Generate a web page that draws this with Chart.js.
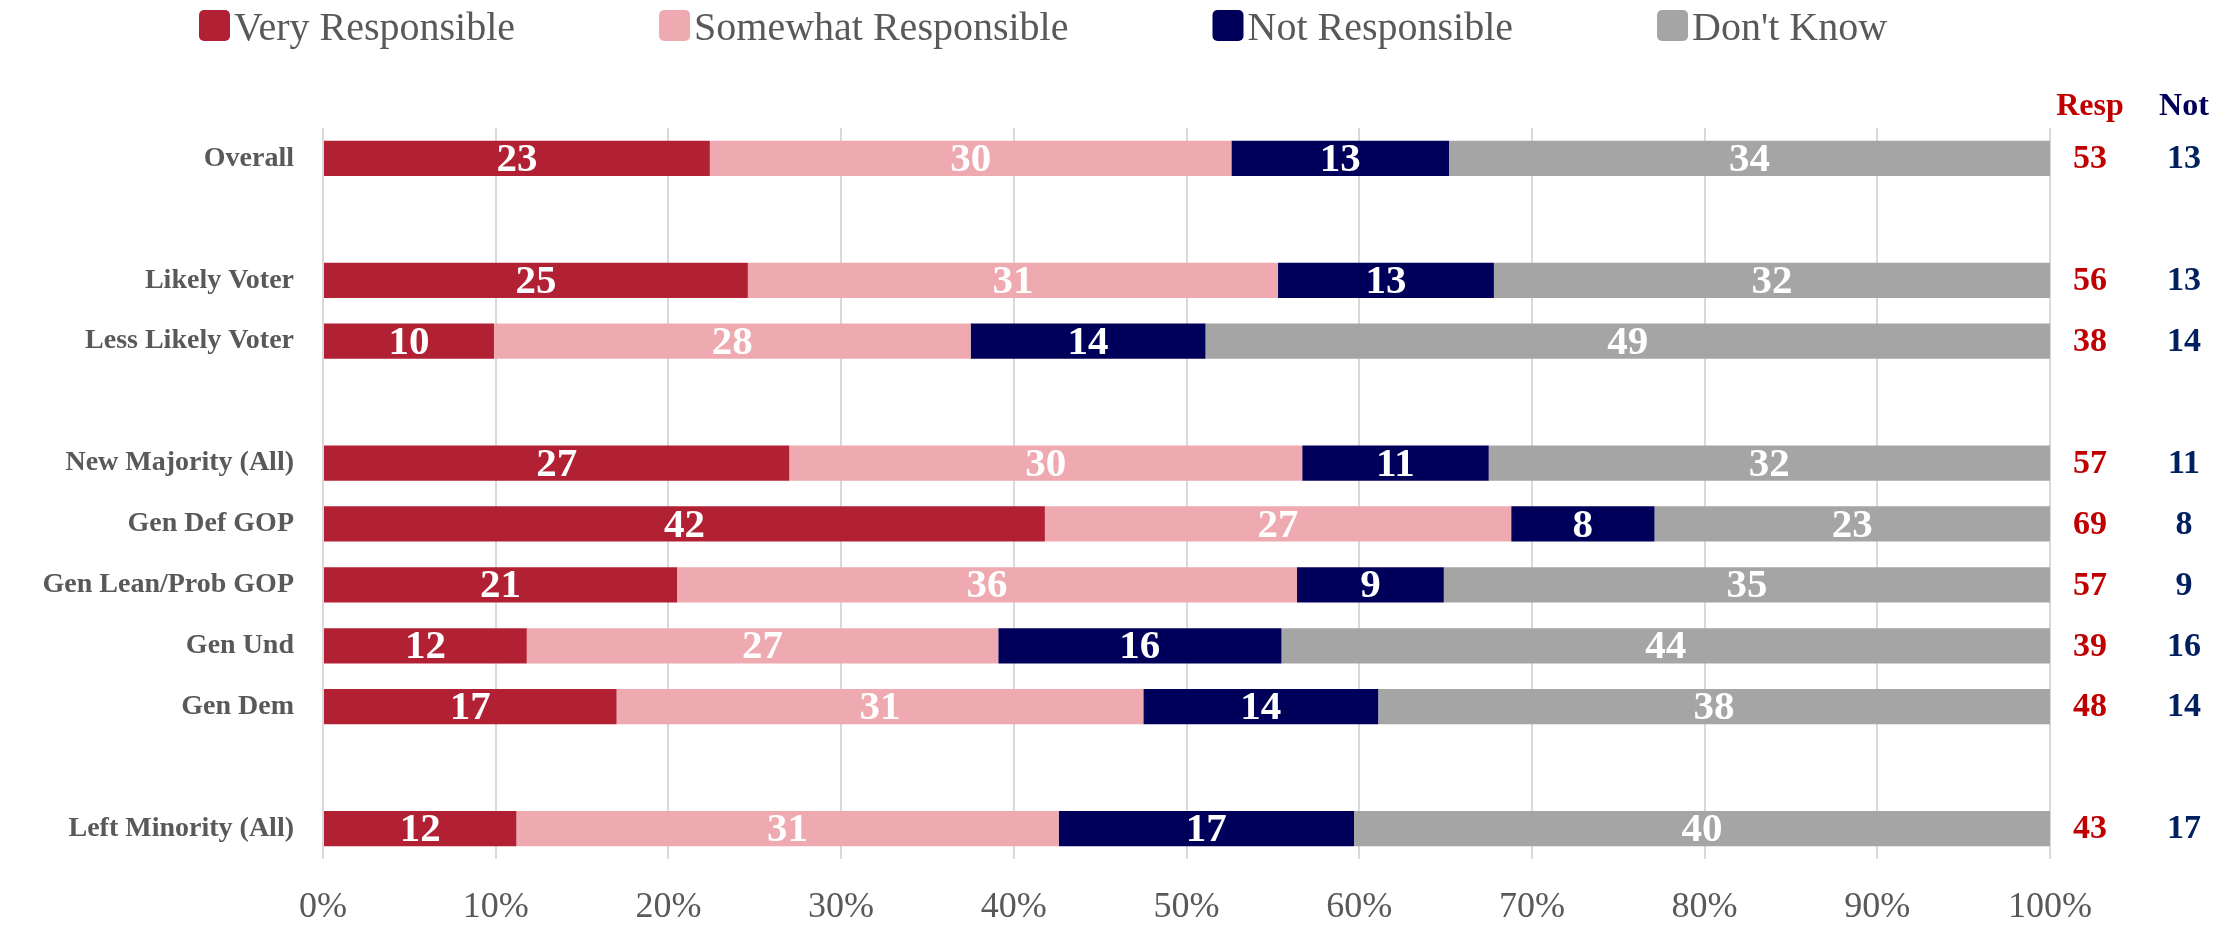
<!DOCTYPE html>
<html><head><meta charset="utf-8">
<script src="https://cdn.jsdelivr.net/npm/chart.js@4.4.1/dist/chart.umd.min.js"></script>
<style>html,body{margin:0;padding:0;background:#fff;}</style>
</head><body>
<canvas id="c" width="2225" height="929"></canvas>
<script>
const categories = ['Overall', '', 'Likely Voter', 'Less Likely Voter', '', 'New Majority (All)', 'Gen Def GOP', 'Gen Lean/Prob GOP', 'Gen Und', 'Gen Dem', '', 'Left Minority (All)'];
const seriesNames = ['Very Responsible', 'Somewhat Responsible', 'Not Responsible', "Don't Know"];
const seriesColors = ['#B22034', '#EEAAB0', '#00005A', '#A5A5A5'];

// bar lengths (percent of row)
const veryValues     = [22.4, null, 24.6,  9.9, null, 27.0, 41.8, 20.5, 11.8, 17.0, null, 11.2];
const somewhatValues = [30.2, null, 30.7, 27.6, null, 29.7, 27.0, 35.9, 27.3, 30.5, null, 31.4];
const notValues      = [12.6, null, 12.5, 13.6, null, 10.8,  8.3,  8.5, 16.4, 13.6, null, 17.1];
const dkValues       = [34.8, null, 32.2, 48.9, null, 32.5, 22.9, 35.1, 44.5, 38.9, null, 40.3];

// printed labels
const veryLabels     = [23, null, 25, 10, null, 27, 42, 21, 12, 17, null, 12];
const somewhatLabels = [30, null, 31, 28, null, 30, 27, 36, 27, 31, null, 31];
const notLabels      = [13, null, 13, 14, null, 11,  8,  9, 16, 14, null, 17];
const dkLabels       = [34, null, 32, 49, null, 32, 23, 35, 44, 38, null, 40];

const respTotals = [53, null, 56, 38, null, 57, 69, 57, 39, 48, null, 43];
const notTotals  = [13, null, 13, 14, null, 11,  8,  9, 16, 14, null, 17];
const sideHeaders = ['Resp', 'Not'];
const sideColors = ['#C00000', '#002060'];
const sideHeaderColors = ['#C00000', '#00005A'];

const xTickValues = [0, 10, 20, 30, 40, 50, 60, 70, 80, 90, 100];

const allValues = [veryValues, somewhatValues, notValues, dkValues];
const allLabels = [veryLabels, somewhatLabels, notLabels, dkLabels];

const SERIF = '"Liberation Serif", "DejaVu Serif", serif';
const GRAY_TEXT = '#595959';

const textPlugin = {
  id: 'textPlugin',
  afterDraw(chart) {
    const ctx = chart.ctx;
    const area = chart.chartArea;
    const yScale = chart.scales.y;
    ctx.save();
    // segment labels
    ctx.font = 'bold 41px ' + SERIF;
    ctx.fillStyle = '#FFFFFF';
    ctx.textAlign = 'center';
    ctx.textBaseline = 'middle';
    chart.data.datasets.forEach((ds, i) => {
      const meta = chart.getDatasetMeta(i);
      meta.data.forEach((el, j) => {
        const lab = allLabels[i][j];
        if (lab === null || lab === undefined) return;
        const cx = (el.x + el.base) / 2;
        ctx.fillText(String(lab), cx, el.y + 2);
      });
    });
    // side columns
    const colX = [area.right + 40, area.right + 134];
    ctx.font = 'bold 32px ' + SERIF;
    sideHeaders.forEach((h, k) => {
      ctx.fillStyle = sideHeaderColors[k];
      ctx.fillText(h, colX[k], area.top - 21);
    });
    ctx.font = 'bold 34px ' + SERIF;
    [respTotals, notTotals].forEach((arr, k) => {
      ctx.fillStyle = sideColors[k];
      arr.forEach((v, j) => {
        if (v === null) return;
        ctx.fillText(String(v), colX[k], yScale.getPixelForValue(j) + 1);
      });
    });
    // legend
    ctx.font = '40px ' + SERIF;
    ctx.textAlign = 'left';
    ctx.textBaseline = 'alphabetic';
    let x = 199;
    const boxSize = 31, boxTop = 10;
    seriesNames.forEach((name, i) => {
      ctx.fillStyle = seriesColors[i];
      ctx.beginPath();
      if (ctx.roundRect) ctx.roundRect(x, boxTop, boxSize, boxSize, 5); else ctx.rect(x, boxTop, boxSize, boxSize);
      ctx.fill();
      ctx.fillStyle = GRAY_TEXT;
      const tx = x + boxSize + 4;
      ctx.fillText(name, tx, 40);
      x = tx + ctx.measureText(name).width + 144;
    });
    ctx.restore();
  }
};

new Chart(document.getElementById('c'), {
  type: 'bar',
  data: {
    labels: categories,
    datasets: seriesNames.map((name, i) => ({
      label: name,
      data: allValues[i],
      backgroundColor: seriesColors[i],
      borderWidth: 0,
      categoryPercentage: 1.0,
      barPercentage: 0.58
    }))
  },
  options: {
    indexAxis: 'y',
    responsive: false,
    devicePixelRatio: 1,
    animation: false,
    layout: { padding: { top: 128, right: 175, bottom: 0, left: 0 } },
    plugins: { legend: { display: false }, tooltip: { enabled: false } },
    scales: {
      x: {
        stacked: true,
        min: 0, max: 100,
        afterBuildTicks(scale) { scale.ticks = xTickValues.map(v => ({ value: v })); },
        afterFit(scale) { scale.height = 70; },
        grid: { color: '#D9D9D9', lineWidth: 2, drawTicks: false },
        border: { display: false },
        ticks: {
          color: GRAY_TEXT,
          font: { family: SERIF, size: 36 },
          padding: 27,
          callback: v => v + '%'
        }
      },
      y: {
        stacked: true,
        afterFit(scale) { scale.width = 323; },
        grid: { display: false, drawTicks: false },
        border: { display: false },
        ticks: {
          color: GRAY_TEXT,
          font: { family: SERIF, size: 28, weight: 'bold' },
          padding: 29,
          autoSkip: false
        }
      }
    }
  },
  plugins: [textPlugin]
});
</script>
</body></html>
